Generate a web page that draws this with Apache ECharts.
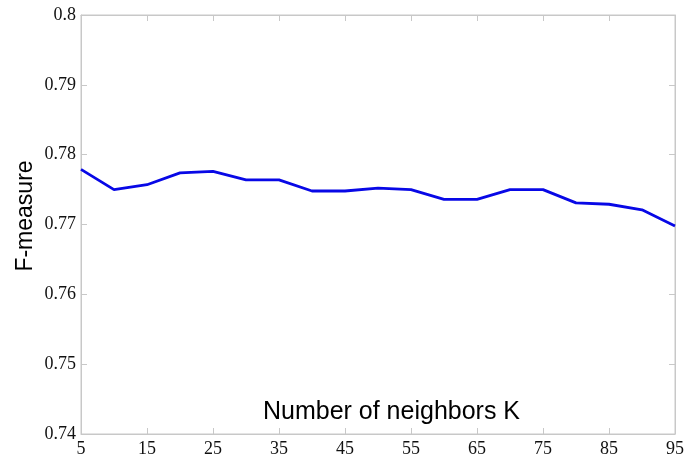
<!DOCTYPE html>
<html>
<head>
<meta charset="utf-8">
<script src="https://cdn.jsdelivr.net/npm/echarts@6/dist/echarts.min.js"></script>
<style>
  html, body { margin: 0; padding: 0; background: #fff; }
  #chart { width: 684px; height: 461px; }
</style>
</head>
<body>
<div id="chart"></div>
<script>
// neighbors K (every 5) and the F-measure
var kValues = ['5', '10', '15', '20', '25', '30', '35', '40', '45', '50',
               '55', '60', '65', '70', '75', '80', '85', '90', '95'];
var fMeasure = [0.7779, 0.7750, 0.7757, 0.7774, 0.7776, 0.7764, 0.7764, 0.7748, 0.7748, 0.7752,
                0.7750, 0.7736, 0.7736, 0.7750, 0.7750, 0.7731, 0.7729, 0.7721, 0.7698];
var yTicks = { min: 0.74, max: 0.8, step: 0.01 };

var chart = echarts.init(document.getElementById('chart'));

var frameColor = '#c8c8c8';
var tickFont = { color: '#111', fontFamily: 'Liberation Serif', fontSize: 18 };

var option = {
    animation: false,
    grid: {
        left: 81, right: 9, top: 15, bottom: 27,
        outerBoundsMode: 'none', containLabel: false,
        show: true, borderColor: frameColor, borderWidth: 1
    },
    xAxis: [{
        type: 'category',
        data: kValues,
        boundaryGap: false,
        name: 'Number of neighbors K',
        nameLocation: 'middle',
        nameGap: -34,
        nameMoveOverlap: false,
        nameTextStyle: { fontFamily: 'Liberation Sans', fontSize: 25, color: '#000', padding: [0, 0, 0, 27] },
        axisLine: { lineStyle: { color: frameColor } },
        axisTick: { inside: true, interval: 1, length: 6, lineStyle: { color: frameColor } },
        axisLabel: Object.assign({ interval: 1, margin: 6 }, tickFont),
        splitLine: { show: false }
    }, {
        type: 'category',
        data: kValues,
        boundaryGap: false,
        position: 'top',
        axisLine: { lineStyle: { color: frameColor } },
        axisTick: { inside: true, interval: 1, length: 6, lineStyle: { color: frameColor } },
        axisLabel: { show: false },
        splitLine: { show: false }
    }],
    yAxis: [{
        type: 'value',
        min: yTicks.min,
        max: yTicks.max,
        interval: yTicks.step,
        name: 'F-measure',
        nameLocation: 'middle',
        nameGap: 44,
        nameMoveOverlap: false,
        nameTextStyle: { fontFamily: 'Liberation Sans', fontSize: 23, color: '#000', padding: [0, 0, 0, 17] },
        axisLine: { show: true, lineStyle: { color: frameColor } },
        axisTick: { show: true, inside: true, length: 6, lineStyle: { color: frameColor } },
        axisLabel: Object.assign({
            margin: 5,
            formatter: function (v) { return String(+v.toFixed(2)); }
        }, tickFont),
        splitLine: { show: false }
    }, {
        type: 'value',
        min: yTicks.min,
        max: yTicks.max,
        interval: yTicks.step,
        position: 'right',
        axisLine: { show: true, lineStyle: { color: frameColor } },
        axisTick: { show: true, inside: true, length: 6, lineStyle: { color: frameColor } },
        axisLabel: { show: false },
        splitLine: { show: false }
    }],
    series: [{
        type: 'line',
        data: fMeasure,
        symbol: 'none',
        lineStyle: { color: '#0808e6', width: 2.8 }
    }]
};
chart.setOption(option);
</script>
</body>
</html>
